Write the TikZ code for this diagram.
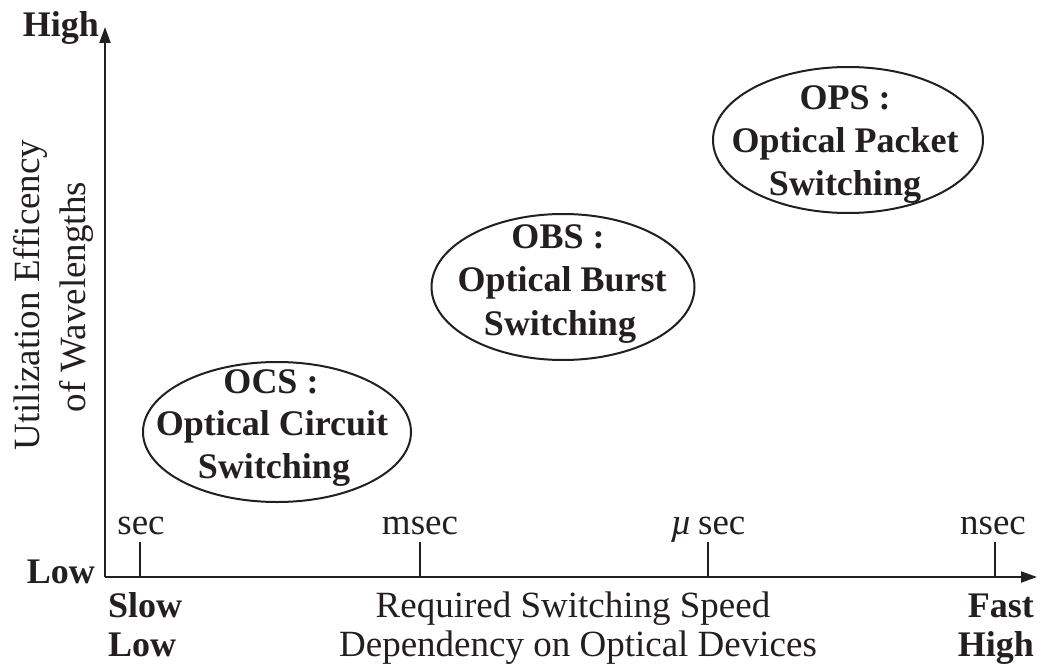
\documentclass[tikz,border=0pt]{standalone}
\usepackage{fontspec}
\setmainfont{Liberation Serif}
\usetikzlibrary{arrows.meta,shapes.geometric}
\definecolor{ink}{HTML}{231F20}
\begin{document}
\begin{tikzpicture}[x=1pt,y=-1pt,
  txt/.style={inner sep=0pt, text=ink, font=\fontsize{37}{44}\selectfont},
  btxt/.style={inner sep=0pt, text=ink, font=\fontsize{36}{44}\selectfont\bfseries},
  ell/.style={draw=ink, line width=2pt, ellipse, inner sep=0pt},
  axisline/.style={draw=ink, line width=2pt, -{Triangle[length=16pt,width=11pt]}},
  tickline/.style={draw=ink, line width=2pt}]
\useasboundingbox (0,0) rectangle (1050,669);
% axes
\coordinate (O) at (105,577);
\coordinate (ytip) at (105,27);
\coordinate (xtip) at (1037,577);
\draw[axisline] (O) -- (ytip);
\draw[axisline] (O) -- (xtip);
% ticks
\coordinate (t1) at (140,577); \coordinate (t1u) at (140,542);
\coordinate (t2) at (420,577); \coordinate (t2u) at (420,542);
\coordinate (t3) at (708,577); \coordinate (t3u) at (708,542);
\coordinate (t4) at (995,577); \coordinate (t4u) at (995,542);
\draw[tickline] (t1) -- (t1u);
\draw[tickline] (t2) -- (t2u);
\draw[tickline] (t3) -- (t3u);
\draw[tickline] (t4) -- (t4u);
\node[txt, anchor=base] (lsec) at (141,534) {sec};
\node[txt, anchor=base] (lmsec) at (420,534) {msec};
\node[txt, anchor=base] (lusec) at (708,534) {\textit{µ}\,sec};
\node[txt, anchor=base] (lnsec) at (993,534) {nsec};
% axis end labels
\node[btxt, anchor=base east] (yhigh) at (99,37) {High};
\node[btxt, anchor=base east] (ylow) at (95,583) {Low};
\node[btxt, anchor=base west] (slow) at (108,617) {Slow};
\node[btxt, anchor=base west] (xlow) at (108,656) {Low};
\node[btxt, anchor=base east] (fast) at (1034,617) {Fast};
\node[btxt, anchor=base east] (xhigh) at (1034,656) {High};
\node[txt, anchor=base] (xlab1) at (573,617) {Required Switching Speed};
\node[txt, anchor=base] (xlab2) at (578,656) {Dependency on Optical Devices};
% y label
\node[txt, rotate=90, anchor=base] (ylab1) at (39,295) {Utilization Efficency};
\node[txt, rotate=90, anchor=base] (ylab2) at (85,297) {of Wavelengths};
% ellipses
\node[ell, minimum width=268pt, minimum height=140pt] (ocs) at (277,432) {};
\node[btxt, anchor=base] (ocs1) at (271,393) {OCS :};
\node[btxt, anchor=base] (ocs2) at (272,435) {Optical Circuit};
\node[btxt, anchor=base] (ocs3) at (274,478) {Switching};
\node[ell, minimum width=263pt, minimum height=146pt] (obs) at (563,287) {};
\node[btxt, anchor=base] (obs1) at (558,248) {OBS :};
\node[btxt, anchor=base] (obs2) at (562,291) {Optical Burst};
\node[btxt, anchor=base] (obs3) at (560,335) {Switching};
\node[ell, minimum width=270pt, minimum height=146pt] (ops) at (848,140) {};
\node[btxt, anchor=base] (ops1) at (845,110) {OPS :};
\node[btxt, anchor=base] (ops2) at (845,152) {Optical Packet};
\node[btxt, anchor=base] (ops3) at (845,195) {Switching};
\end{tikzpicture}
\end{document}
